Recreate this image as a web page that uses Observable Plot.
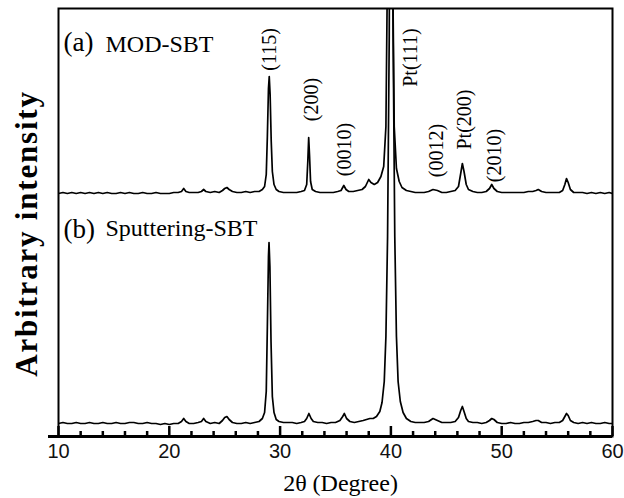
<!DOCTYPE html>
<html><head><meta charset="utf-8">
<script src="https://cdn.jsdelivr.net/npm/d3@7"></script>
<script src="https://cdn.jsdelivr.net/npm/@observablehq/plot@0.6"></script>
<style>body{margin:0;background:#fff}#chart{width:624px;height:498px}</style>
</head><body><div id="chart"></div>
<script>
// (a) MOD-SBT — [2θ, intensity (arb.)]
const modSBT = [[10.0,13],[10.4,14],[10.8,13],[11.2,14],[11.6,13],[12.0,14],[12.4,13],[12.8,14],[13.2,13],[13.6,14],[14.0,13],[14.4,14],[14.8,13],[15.2,13],[15.6,14],[16.0,13],[16.4,14],[16.8,13],[17.2,13],[17.6,14],[18.0,13],[18.4,13],[18.8,14],[19.2,13],[19.6,13],[20.0,13],[20.4,14],[20.8,14],[21.1,15],[21.3,18],[21.5,15],[21.8,14],[22.2,14],[22.6,14],[22.9,15],[23.1,17],[23.3,15],[23.7,14],[24.1,15],[24.5,14],[24.8,16],[25.0,18],[25.2,19],[25.4,17],[25.7,15],[26.1,14],[26.5,14],[26.9,15],[27.3,14],[27.7,15],[28.1,15],[28.4,17],[28.6,20],[28.75,32],[28.85,70],[28.95,118],[29.02,130],[29.1,112],[29.2,65],[29.3,35],[29.45,22],[29.65,17],[29.9,15],[30.3,14],[30.7,14],[31.1,14],[31.5,14],[31.9,15],[32.2,16],[32.4,22],[32.5,45],[32.58,69],[32.66,50],[32.75,25],[32.9,17],[33.2,15],[33.6,14],[34.0,14],[34.4,14],[34.8,14],[35.2,15],[35.5,16],[35.75,21],[35.95,17],[36.2,15],[36.6,15],[37.0,16],[37.4,17],[37.7,20],[38.0,27],[38.2,24],[38.5,22],[38.8,24],[39.1,30],[39.35,40],[39.55,80],[39.7,250],[39.85,700],[40.0,700],[40.15,250],[40.3,80],[40.5,38],[40.75,25],[41.0,19],[41.4,16],[41.8,15],[42.2,14],[42.6,14],[43.0,14],[43.4,15],[43.8,17],[44.2,16],[44.6,14],[45.0,14],[45.4,15],[45.8,16],[46.1,20],[46.3,33],[46.45,43],[46.6,35],[46.8,22],[47.0,17],[47.4,15],[47.8,14],[48.2,14],[48.6,15],[48.9,18],[49.1,22],[49.3,18],[49.6,15],[50.0,14],[50.4,14],[50.8,14],[51.2,14],[51.6,14],[52.0,14],[52.4,15],[52.8,15],[53.1,16],[53.3,17],[53.6,15],[54.0,14],[54.4,14],[54.8,14],[55.2,14],[55.5,16],[55.7,22],[55.85,28],[56.0,24],[56.2,17],[56.5,14],[56.9,14],[57.3,14],[57.7,13],[58.1,14],[58.5,13],[58.9,14],[59.3,13],[59.7,14],[60.0,13]];

// (b) Sputtering-SBT — [2θ, intensity (arb.)]
const sputSBT = [[10.0,13],[10.4,14],[10.8,13],[11.2,13],[11.6,14],[12.0,13],[12.4,13],[12.8,14],[13.2,13],[13.6,13],[14.0,14],[14.4,13],[14.8,13],[15.2,14],[15.6,13],[16.0,13],[16.4,14],[16.8,14],[17.2,13],[17.6,13],[18.0,14],[18.4,13],[18.8,13],[19.2,12],[19.6,13],[20.0,12],[20.4,13],[20.8,13],[21.1,15],[21.3,18],[21.5,15],[21.8,13],[22.2,13],[22.6,14],[22.9,15],[23.1,18],[23.3,15],[23.7,13],[24.1,14],[24.5,13],[24.8,16],[25.0,19],[25.2,20],[25.4,17],[25.7,14],[26.1,13],[26.5,13],[26.9,14],[27.3,13],[27.7,14],[28.1,15],[28.4,18],[28.6,24],[28.75,45],[28.85,110],[28.95,180],[29.0,194],[29.08,170],[29.18,95],[29.3,40],[29.45,24],[29.65,17],[29.9,15],[30.3,14],[30.7,14],[31.1,14],[31.5,13],[31.9,14],[32.2,15],[32.4,18],[32.6,23],[32.8,18],[33.0,15],[33.4,14],[33.8,14],[34.2,13],[34.6,14],[35.0,14],[35.4,16],[35.65,20],[35.8,23],[36.0,18],[36.3,15],[36.7,14],[37.1,15],[37.5,16],[37.8,17],[38.1,18],[38.4,18],[38.7,20],[39.0,25],[39.2,34],[39.4,55],[39.55,100],[39.7,200],[39.85,400],[39.95,700],[40.05,700],[40.2,400],[40.35,200],[40.5,100],[40.65,55],[40.85,35],[41.1,24],[41.4,18],[41.8,15],[42.2,14],[42.6,14],[43.0,14],[43.4,15],[43.8,18],[44.2,16],[44.6,14],[45.0,14],[45.4,14],[45.8,15],[46.1,19],[46.3,26],[46.45,30],[46.6,25],[46.8,18],[47.0,15],[47.4,14],[47.8,14],[48.2,13],[48.6,14],[48.9,16],[49.1,18],[49.3,17],[49.6,14],[50.0,13],[50.4,13],[50.8,14],[51.2,13],[51.6,13],[52.0,14],[52.4,14],[52.8,15],[53.1,16],[53.3,16],[53.6,14],[54.0,14],[54.4,13],[54.8,14],[55.2,14],[55.5,16],[55.7,20],[55.85,23],[56.0,21],[56.2,16],[56.5,14],[56.9,13],[57.3,14],[57.7,13],[58.1,14],[58.5,13],[58.9,13],[59.3,14],[59.7,13],[60.0,13]];

const xTicks = [10, 20, 30, 40, 50, 60];
const minorTicks = [12,14,16,18,22,24,26,28,32,34,36,38,42,44,46,48,52,54,56,58];
const peakLabels = ["(115)", "(200)", "(0010)", "Pt(111)", "(0012)", "Pt(200)", "(2010)"];
const peakLabelTheta = [29.09, 32.83, 35.81, 41.77, 44.12, 46.64, 49.35];
const peakLabelLevel = [387, 337, 287, 379, 286, 317, 281];
const seriesNames = ["MOD-SBT", "Sputtering-SBT"];
const panelTags = ["(a)", "(b)"];
const xTitle = "2θ (Degree)";
const yTitle = "Arbitrary intensity";
const offsetA = 230; // vertical stacking offset of trace (a)

const serif = "Liberation Serif, Times New Roman, serif";
const sans = "Liberation Sans, Arial, sans-serif";
const idx = peakLabels.map((_, i) => i);

const chart = Plot.plot({
  width: 624,
  height: 498,
  marginLeft: 58,
  marginRight: 12,
  marginTop: 8,
  marginBottom: 62,
  x: {domain: [10, 60], axis: null},
  y: {domain: [0, 428], axis: null},
  marks: [
    Plot.line(sputSBT, {x: d => d[0], y: d => d[1], stroke: "#000", strokeWidth: 1.7, clip: true}),
    Plot.line(modSBT, {x: d => d[0], y: d => d[1] + offsetA, stroke: "#000", strokeWidth: 1.7, clip: true}),
    Plot.frame({stroke: "#000", strokeWidth: 2}),
    Plot.ruleY([0], {stroke: "#000", strokeWidth: 3, insetLeft: -10}),
    Plot.tickX(minorTicks, {x: d => d, stroke: "#000", strokeWidth: 2.5, insetTop: 423}),
    Plot.tickX(xTicks, {x: d => d, stroke: "#000", strokeWidth: 2.5, insetTop: 418}),
    Plot.text(xTicks, {x: d => d, text: d => String(d), frameAnchor: "bottom", dy: 15, lineAnchor: "middle", fontSize: 20, fontFamily: sans, fill: "#111"}),
    Plot.text([xTitle], {frameAnchor: "bottom", textAnchor: "middle", dx: 5, dy: 47, lineAnchor: "middle", fontSize: 24, fontFamily: serif, fill: "#000"}),
    Plot.text([yTitle], {frameAnchor: "left", textAnchor: "middle", rotate: -90, dx: -31, dy: 11, lineAnchor: "middle", fontSize: 31, fontWeight: "bold", fontFamily: serif, fill: "#000"}),
    Plot.text([panelTags[0]], {frameAnchor: "top-left", dx: 5, dy: 42, textAnchor: "start", lineAnchor: "bottom", fontSize: 27, fontFamily: serif, fill: "#000"}),
    Plot.text([seriesNames[0]], {frameAnchor: "top-left", dx: 47, dy: 43, textAnchor: "start", lineAnchor: "bottom", fontSize: 24, fontFamily: serif, fill: "#000"}),
    Plot.text([panelTags[1]], {frameAnchor: "top-left", dx: 5, dy: 229, textAnchor: "start", lineAnchor: "bottom", fontSize: 27, fontFamily: serif, fill: "#000"}),
    Plot.text([seriesNames[1]], {frameAnchor: "top-left", dx: 47, dy: 227, textAnchor: "start", lineAnchor: "bottom", fontSize: 24, fontFamily: serif, fill: "#000"}),
    Plot.text(idx, {x: i => peakLabelTheta[i], y: i => peakLabelLevel[i], text: i => peakLabels[i], rotate: -90, lineAnchor: "middle", fontSize: 20, fontFamily: serif, fill: "#000"})
  ]
});
d3.select(chart).selectAll("text").filter(function() { return this.textContent === yTitle; }).style("letter-spacing", "1.8px");
document.getElementById("chart").appendChild(chart);
</script>
</body></html>
